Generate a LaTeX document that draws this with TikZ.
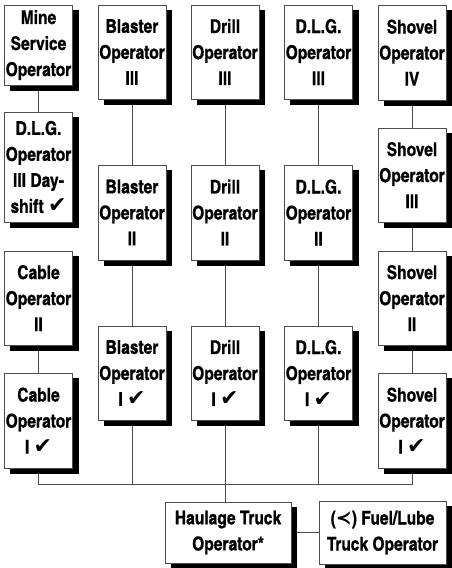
\documentclass[tikz,border=0pt]{standalone}
\usepackage{fontspec}
\setmainfont{texgyreheroscn-bold.otf}[FakeBold=0.7]
\newfontfamily\symfont{DejaVu Sans}
\usetikzlibrary{calc}
\pgfdeclarelayer{lines}
\pgfdeclarelayer{shade}
\pgfsetlayers{lines,shade,main}
\newcommand{\chk}{{\symfont\bfseries\fontsize{22}{26}\selectfont\char"2714}}

\begin{document}
\begin{tikzpicture}[x=1pt,y=-1pt,font=\fontsize{19}{26}\selectfont,
  jobbox/.style={draw=black!70, line width=0.8pt, fill=white, align=center, inner sep=1pt,
    minimum width=68pt},
  link/.style={draw=black!70, line width=0.9pt}]
\useasboundingbox (0,0) rectangle (451,568);

\node[jobbox, minimum width=67pt, minimum height=80pt] (mine) at (38.5,45) {Mine\\Service\\Operator};
\node[jobbox, minimum width=67pt, minimum height=110pt] (dlgday) at (38.5,167) {D.L.G.\\Operator\\III Day-\\shift \chk};
\node[jobbox, minimum width=67pt, minimum height=94pt] (cab2) at (38.5,298) {Cable\\Operator\\II};
\node[jobbox, minimum width=67pt, minimum height=95pt] (cab1) at (38.5,420.5) {Cable\\Operator\\I \chk};

\node[jobbox, minimum height=94pt] (bla3) at (132,52) {Blaster\\Operator\\III};
\node[jobbox, minimum height=95pt] (bla2) at (132,212.5) {Blaster\\Operator\\II};
\node[jobbox, minimum height=94pt] (bla1) at (132,373) {Blaster\\Operator\\I \chk};

\node[jobbox, minimum height=94pt] (dri3) at (225,52) {Drill\\Operator\\III};
\node[jobbox, minimum height=95pt] (dri2) at (225,212.5) {Drill\\Operator\\II};
\node[jobbox, minimum height=94pt] (dri1) at (225,373) {Drill\\Operator\\I \chk};

\node[jobbox, minimum height=94pt] (dlg3) at (318.5,52) {D.L.G.\\Operator\\III};
\node[jobbox, minimum height=95pt] (dlg2) at (318.5,212.5) {D.L.G.\\Operator\\II};
\node[jobbox, minimum height=94pt] (dlg1) at (318.5,373) {D.L.G.\\Operator\\I \chk};

\node[jobbox, minimum height=95pt] (sho4) at (412,52.5) {Shovel\\Operator\\IV};
\node[jobbox, minimum height=94pt] (sho3) at (412,175) {Shovel\\Operator\\III};
\node[jobbox, minimum height=94pt] (sho2) at (412,298) {Shovel\\Operator\\II};
\node[jobbox, minimum height=95pt] (sho1) at (412,420.5) {Shovel\\Operator\\I \chk};

\node[jobbox, minimum width=126pt, minimum height=61pt] (haul) at (228,532.5) {Haulage Truck\\Operator*};
\node[jobbox, minimum width=127pt, minimum height=63pt] (fuel) at (382.5,532.5) {({\symfont\bfseries ≺}) Fuel/Lube\\Truck Operator};

\begin{pgfonlayer}{shade}
\foreach \n in {mine,dlgday,cab2,cab1,bla3,bla2,bla1,dri3,dri2,dri1,dlg3,dlg2,dlg1,sho4,sho3,sho2,sho1,haul,fuel}
  \fill[black] ($(\n.south west)+(6pt,-5.5pt)$) rectangle ($(\n.north east)+(6pt,-5.5pt)$);
\end{pgfonlayer}

\coordinate (bus) at (0,484);

\begin{pgfonlayer}{lines}
\draw[link] (mine) -- (dlgday);
\draw[link] (cab2) -- (cab1);
\draw[link] (bla3) -- (bla2) -- (bla1);
\draw[link] (dri3) -- (dri2) -- (dri1);
\draw[link] (dlg3) -- (dlg2) -- (dlg1);
\draw[link] (sho4) -- (sho3) -- (sho2) -- (sho1);
\draw[link] (cab1.south) -- (cab1.south |- bus) -| (sho1.south);
\draw[link] (bla1.south) -- (bla1.south |- bus);
\draw[link] (dlg1.south) -- (dlg1.south |- bus);
\draw[link] (dri1.south) -- (dri1.south |- haul.north);
\draw[link] (haul.east) -- (fuel.west);
\end{pgfonlayer}
\end{tikzpicture}
\end{document}
